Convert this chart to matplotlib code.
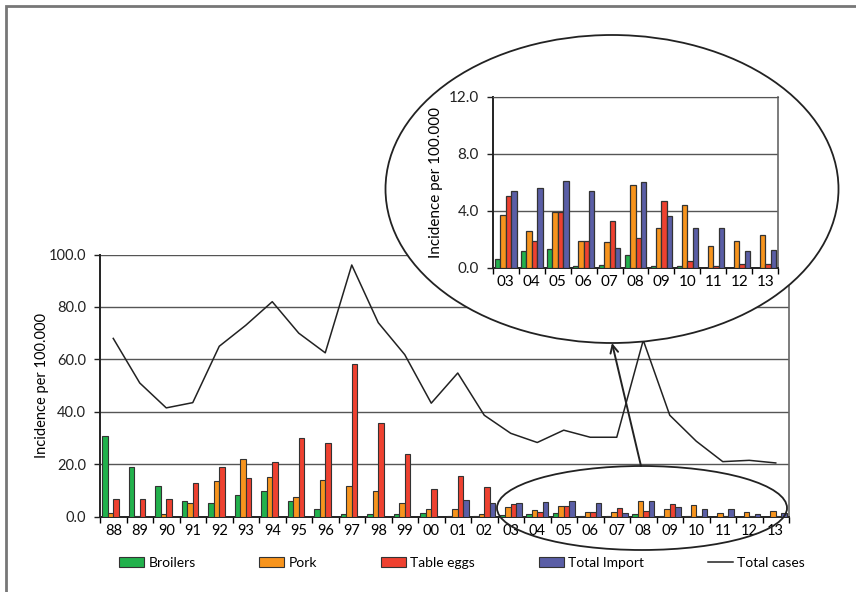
import matplotlib
matplotlib.use("Agg")
import matplotlib.pyplot as plt
import matplotlib.patches as mpatches
from matplotlib.lines import Line2D
import numpy as np

plt.rcParams["font.family"] = ["Lato", "DejaVu Sans"]

YEARS = ["88", "89", "90", "91", "92", "93", "94", "95", "96", "97", "98", "99",
         "00", "01", "02", "03", "04", "05", "06", "07", "08", "09", "10", "11", "12", "13"]
BROILERS = [30.8, 19.0, 11.7, 5.9, 5.4, 8.3, 9.8, 5.9, 3.0, 0.9, 0.9, 0.9, 1.5,
            0.3, 0.3, 0.6, 1.15, 1.3, 0.1, 0.2, 0.9, 0.1, 0.1, 0.0, 0.0, 0.0]
PORK = [1.3, 0.3, 1.0, 5.3, 13.7, 22.0, 15.1, 7.4, 13.9, 11.8, 9.9, 5.4, 3.1,
        3.1, 1.0, 3.7, 2.6, 3.9, 1.9, 1.8, 5.8, 2.8, 4.4, 1.5, 1.9, 2.3]
TABLE_EGGS = [6.8, 6.8, 6.8, 12.7, 19.0, 14.7, 21.0, 29.9, 28.0, 58.2, 35.8, 24.1, 10.4,
              15.7, 11.2, 5.0, 1.9, 3.9, 1.9, 3.3, 2.1, 4.7, 0.45, 0.15, 0.25, 0.25]
TOTAL_IMPORT = [0, 0, 0, 0, 0, 0, 0, 0, 0, 0, 0, 0, 0,
                6.4, 5.3, 5.4, 5.6, 6.1, 5.4, 1.4, 6.0, 3.6, 2.8, 2.8, 1.15, 1.25]
TOTAL_CASES = [68, 51, 41.5, 43.5, 65, 73, 82, 70, 62.5, 96, 74, 61.8, 43.3,
               54.8, 38.7, 31.8, 28.3, 33, 30.3, 30.3, 67.3, 38.7, 28.8, 21, 21.5, 20.5]
INSET_START = 15  # 03 .. 13

SERIES = [("Broilers", BROILERS, "#22b14c"),
          ("Pork", PORK, "#f7941d"),
          ("Table eggs", TABLE_EGGS, "#ee4130"),
          ("Total Import", TOTAL_IMPORT, "#5a5ea6")]

W, H = 856, 592
fig = plt.figure(figsize=(W / 100, H / 100), dpi=100)


def fig_rect(x0, y0, x1, y1):
    """pixel box (top-left origin) -> figure fraction rect"""
    return [x0 / W, 1 - y1 / H, (x1 - x0) / W, (y1 - y0) / H]


def draw_bars(ax, idx, lw, fs):
    x = np.arange(len(idx))
    bw = 0.21
    offs = [-0.315, -0.105, 0.105, 0.315]
    for (name, vals, col), off in zip(SERIES, offs):
        v = [vals[i] for i in idx]
        ax.bar(x + off, v, bw, color=col, edgecolor="#333333", linewidth=lw,
               label=name, zorder=3)
    ax.set_xlim(-0.5, len(idx) - 0.5)
    ax.set_xticks(x)
    ax.set_xticklabels([YEARS[i] for i in idx])
    ax.set_xticks(np.arange(len(idx) + 1) - 0.5, minor=True)
    ax.tick_params(axis="x", which="major", length=0, pad=5, labelsize=fs)
    ax.tick_params(axis="x", which="minor", length=4, width=1, direction="out")
    ax.tick_params(axis="y", length=4, width=1, direction="out", labelsize=fs,
                   pad=6, colors="#222222")
    ax.grid(axis="y", color="#555555", linewidth=1, zorder=0)
    ax.set_axisbelow(True)
    for s in ["left", "bottom"]:
        ax.spines[s].set_linewidth(1.4)
        ax.spines[s].set_color("#222222")
    ax.spines["top"].set_visible(False)
    ax.spines["right"].set_color("#666666")
    ax.spines["right"].set_linewidth(1.2)


# main chart
ax = fig.add_axes(fig_rect(100, 254.5, 789, 516.7), zorder=1)
all_idx = list(range(len(YEARS)))
draw_bars(ax, all_idx, 0.8, 10.5)
ax.plot(np.arange(len(YEARS)), TOTAL_CASES, color="#222222", linewidth=1.1,
        zorder=4, label="Total cases")
ax.set_ylim(0, 100)
ax.set_yticks(np.arange(0, 101, 20))
ax.set_yticklabels([f"{v:.1f}" for v in range(0, 101, 20)])
ax.set_ylabel("Incidence per 100.000", fontsize=10.5, labelpad=0)

# overlay in pixel coords: frame, ellipses, arrow
ov = fig.add_axes([0, 0, 1, 1], zorder=2)
ov.set_xlim(0, W)
ov.set_ylim(H, 0)
ov.axis("off")
ov.patch.set_alpha(0)
ov.plot([6, 6, W], [H, 6, 6], color="#777777", linewidth=2, solid_joinstyle="miter")
ov.add_patch(mpatches.Ellipse((612, 189), 453, 308, facecolor="white",
                              edgecolor="#222222", linewidth=1.3))
ov.add_patch(mpatches.Ellipse((642, 508), 290, 84, facecolor="none",
                              edgecolor="#222222", linewidth=1.3))
ov.annotate("", xy=(612, 343), xytext=(641, 466),
            arrowprops=dict(arrowstyle="->", color="#222222", lw=1.4,
                            mutation_scale=14, shrinkA=0, shrinkB=0))

# inset
ins = fig.add_axes(fig_rect(492.7, 96.7, 778.3, 267.7), zorder=3)
ins_idx = list(range(INSET_START, len(YEARS)))
draw_bars(ins, ins_idx, 0.9, 11)
ins.set_ylim(0, 12)
ins.set_yticks([0, 4, 8, 12])
ins.set_yticklabels(["0.0", "4.0", "8.0", "12.0"])
ins.spines["top"].set_visible(True)
ins.spines["top"].set_color("#555555")
ins.set_ylabel("Incidence per 100.000", fontsize=11, labelpad=4)

# legend
handles = [mpatches.Patch(facecolor=c, edgecolor="#333333", linewidth=0.8, label=n)
           for n, _, c in SERIES]
handles.append(Line2D([], [], color="#222222", linewidth=1.1, label="Total cases"))
fig.legend(handles=handles, loc="center", bbox_to_anchor=(462 / W, 1 - 563 / H),
           ncol=5, frameon=False, fontsize=10, handlelength=1.8, handleheight=0.7,
           handletextpad=0.3, columnspacing=4.6)

fig.savefig("out.png", dpi=100)
